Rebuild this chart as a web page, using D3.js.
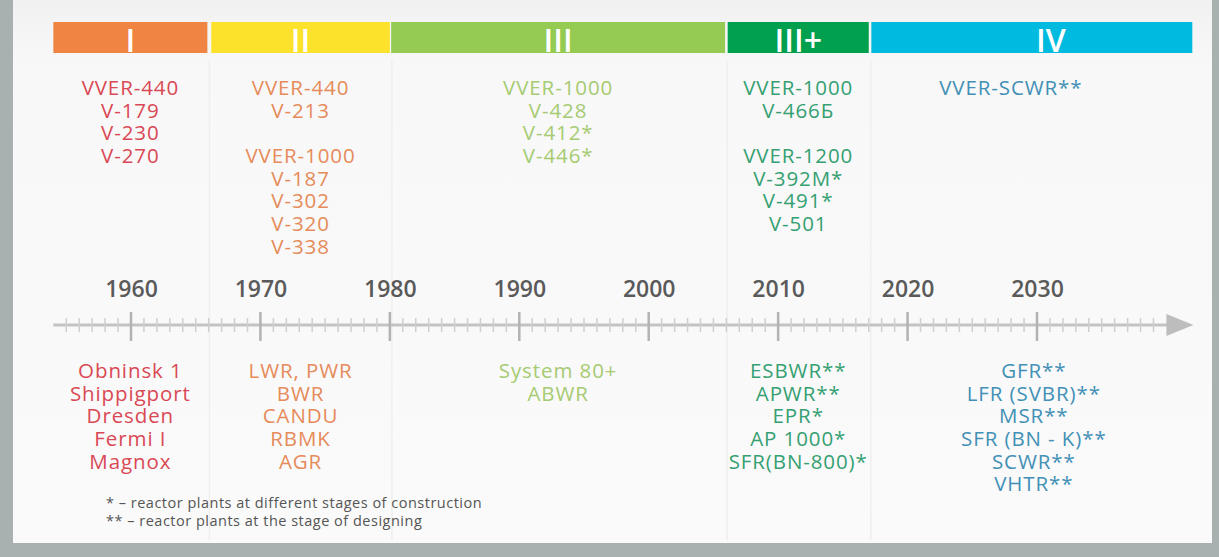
<!DOCTYPE html>
<html>
<head>
<meta charset="utf-8">
<script src="https://cdn.jsdelivr.net/npm/d3@7"></script>
<style>
  html, body { margin: 0; padding: 0; background: #a9b0b0; }
  svg { display: block; }
</style>
</head>
<body>
<div id="chart"></div>
<script>
// generations of reactors, with the years where each one starts / ends on the timeline
var generations = ["I", "II", "III", "III+", "IV"];
var genStart = [1954, 1966.2, 1980.1, 2006.1, 2017.2];
var genEnd   = [1965.9, 1980, 2005.9, 2017, 2042];
var genColors = ["#f08442", "#fde22c", "#95cb52", "#00a04e", "#00bbdf"];
var textColors = ["#d94854", "#e68b5a", "#a6cb72", "#35a072", "#4290b6"];

// reactor types above the axis (Russian VVER designs) and below (world designs)
var topLabels = [
  ["VVER-440", "V-179", "V-230", "V-270"],
  ["VVER-440", "V-213", "", "VVER-1000", "V-187", "V-302", "V-320", "V-338"],
  ["VVER-1000", "V-428", "V-412*", "V-446*"],
  ["VVER-1000", "V-466Б", "", "VVER-1200", "V-392M*", "V-491*", "V-501"],
  ["VVER-SCWR**"]
];
var bottomLabels = [
  ["Obninsk 1", "Shippigport", "Dresden", "Fermi I", "Magnox"],
  ["LWR, PWR", "BWR", "CANDU", "RBMK", "AGR"],
  ["System 80+", "ABWR"],
  ["ESBWR**", "APWR**", "EPR*", "AP 1000*", "SFR(BN-800)*"],
  ["GFR**", "LFR (SVBR)**", "MSR**", "SFR (BN - K)**", "SCWR**", "VHTR**"]
];

var decadeYears = [1960, 1970, 1980, 1990, 2000, 2010, 2020, 2030];
var axisStart = 1954, axisEnd = 2040;

var notes = [
  "* \u2013  reactor plants at different stages of construction",
  "** \u2013 reactor plants at the stage of designing"
];

var cfg = {
  w: 1219,
  h: 557,
  font: "'Open Sans', 'DejaVu Sans', sans-serif",
  barTop: 22,
  barH: 31,
  axisY: 325,
  topLine0: 95,
  bottomLine0: 378,
  lineStep: 22.65
};

var svg = d3.select("#chart")
  .append("svg")
  .attr("width", cfg.w)
  .attr("height", cfg.h);

// gray frame + light panel
svg.append("rect").attr("width", cfg.w).attr("height", cfg.h).attr("fill", "#a9b0b0");

var defs = svg.append("defs");
var grad = defs.append("linearGradient").attr("id", "panelGrad")
  .attr("x1", 0).attr("y1", 0).attr("x2", 0).attr("y2", 1);
grad.append("stop").attr("offset", "0%").attr("stop-color", "#f1f1f1");
grad.append("stop").attr("offset", "12%").attr("stop-color", "#f8f8f8");
grad.append("stop").attr("offset", "100%").attr("stop-color", "#fafafa");

svg.append("rect")
  .attr("x", 13).attr("y", 0)
  .attr("width", 1199).attr("height", 543)
  .attr("fill", "url(#panelGrad)");

var x = d3.scaleLinear().domain([1960, 2030]).range([131, 1037]);

// faint column separators
svg.selectAll(".sep")
  .data(genEnd.slice(0, genEnd.length - 1))
  .enter()
  .append("line")
  .attr("x1", function(d){ return x(d) + 2; })
  .attr("x2", function(d){ return x(d) + 2; })
  .attr("y1", 60).attr("y2", 540)
  .style("stroke", "#efefef")
  .style("stroke-width", "1.5px");

// header bars
var head = svg.selectAll(".gen")
  .data(generations)
  .enter()
  .append("g")
  .attr("class", "gen");

head.append("rect")
  .attr("x", function(d, i){ return x(genStart[i]); })
  .attr("y", cfg.barTop)
  .attr("width", function(d, i){ return x(genEnd[i]) - x(genStart[i]); })
  .attr("height", cfg.barH)
  .attr("fill", function(d, i){ return genColors[i]; });

head.append("text")
  .attr("x", function(d, i){
    var c = (x(genStart[i]) + x(genEnd[i])) / 2;
    return i === 4 ? c + 19 : c;
  })
  .attr("y", cfg.barTop + cfg.barH - 1)
  .attr("text-anchor", "middle")
  .style("font-family", cfg.font)
  .style("font-size", "32px")
  .style("font-weight", "600")
  .attr("fill", "#ffffff")
  .text(function(d){ return d; });

// text blocks
function drawBlock(lines, i, y0, dx){
  var cx = (x(genStart[i]) + x(genEnd[i])) / 2 + dx;
  var t = svg.append("text")
    .attr("text-anchor", "middle")
    .style("font-family", cfg.font)
    .style("font-size", "20.5px")
    .style("letter-spacing", "0.9px")
    .attr("fill", textColors[i]);
  lines.forEach(function(s, k){
    t.append("tspan")
      .attr("x", cx)
      .attr("y", y0 + k * cfg.lineStep)
      .text(s);
  });
}

topLabels.forEach(function(lines, i){
  drawBlock(lines, i, cfg.topLine0, i === 4 ? -21 : 0);
});
bottomLabels.forEach(function(lines, i){
  drawBlock(lines, i, cfg.bottomLine0, i === 4 ? 2 : 0);
});

// timeline axis
var axisG = svg.append("g");

axisG.append("line")
  .attr("x1", x(axisStart)).attr("x2", x(axisEnd) + 2)
  .attr("y1", cfg.axisY).attr("y2", cfg.axisY)
  .style("stroke", "#c3c3c3")
  .style("stroke-width", "3px");

var minorYears = d3.range(axisStart + 1, axisEnd).filter(function(y){ return y % 10 !== 0; });

axisG.selectAll(".minor")
  .data(minorYears)
  .enter()
  .append("line")
  .attr("x1", function(d){ return x(d); })
  .attr("x2", function(d){ return x(d); })
  .attr("y1", cfg.axisY - 7).attr("y2", cfg.axisY + 7)
  .style("stroke", "#cfcfcf")
  .style("stroke-width", "1.5px");

axisG.selectAll(".major")
  .data(decadeYears)
  .enter()
  .append("line")
  .attr("x1", function(d){ return x(d); })
  .attr("x2", function(d){ return x(d); })
  .attr("y1", cfg.axisY - 13).attr("y2", cfg.axisY + 16)
  .style("stroke", "#b3b3b3")
  .style("stroke-width", "2.5px");

axisG.append("path")
  .attr("d", "M" + x(axisEnd) + "," + (cfg.axisY - 11) +
             "L" + (x(axisEnd) + 27) + "," + cfg.axisY +
             "L" + x(axisEnd) + "," + (cfg.axisY + 11) + "Z")
  .attr("fill", "#bdbdbd");

// year labels via a top axis without tick lines
var yearAxis = d3.axisTop(x)
  .tickValues(decadeYears)
  .tickFormat(d3.format("d"))
  .tickSize(0)
  .tickPadding(0);

var ya = svg.append("g")
  .attr("transform", "translate(0,297)")
  .call(yearAxis);
ya.select(".domain").remove();
ya.selectAll("text")
  .attr("dy", 0)
  .style("font-family", cfg.font)
  .style("font-size", "23px")
  .style("font-weight", "600")
  .attr("fill", "#5a5a5a");

// footnotes
svg.selectAll(".note")
  .data(notes)
  .enter()
  .append("text")
  .attr("x", 106)
  .attr("y", function(d, i){ return 508 + i * 17.5; })
  .style("font-family", cfg.font)
  .style("font-size", "14.5px")
  .style("letter-spacing", "0.5px")
  .attr("fill", "#555555")
  .text(function(d){ return d; });
</script>
</body>
</html>
